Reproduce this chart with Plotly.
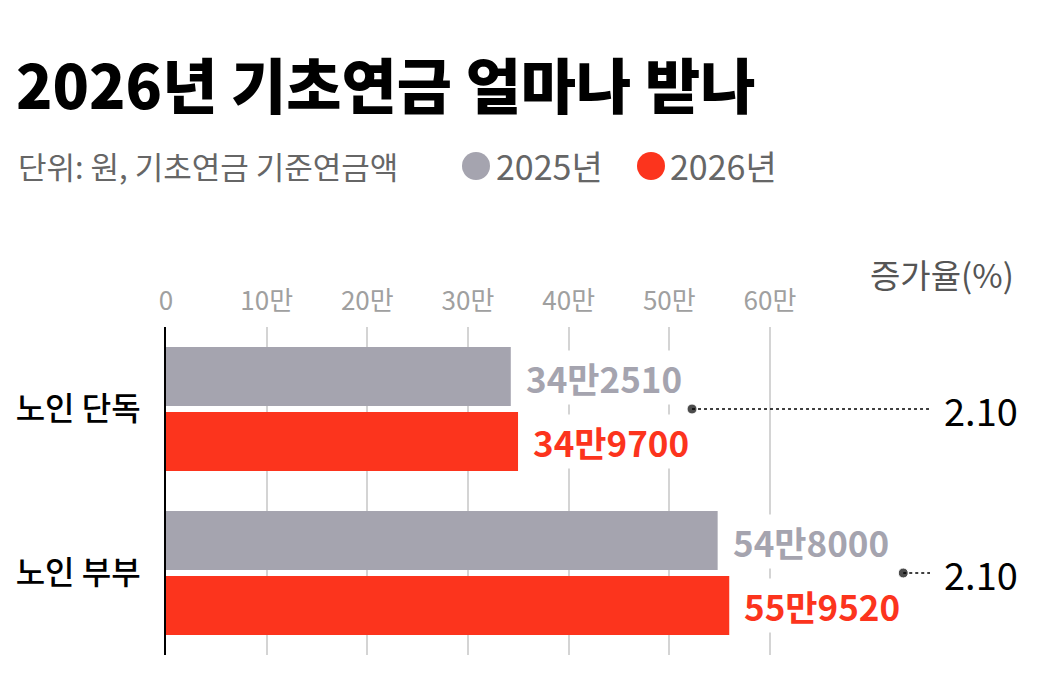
import plotly.graph_objects as go

# data
categories = ['노인 단독', '노인 부부']
years = ['2025년', '2026년']
pension_2025 = [342510, 548000]
pension_2026 = [349700, 559520]
labels_2025 = ['34만2510', '54만8000']
labels_2026 = ['34만9700', '55만9520']
increase_pct = ['2.10', '2.10']
tick_vals = [0, 100000, 200000, 300000, 400000, 500000, 600000]
tick_text = ['0', '10만', '20만', '30만', '40만', '50만', '60만']

GRAY = '#a5a4af'
RED = '#fc341d'
FONT = 'Noto Sans CJK KR'

# page offset of the figure (body margin) and figure size
OFF = 8
WIDTH, HEIGHT = 1064 - OFF, 692 - OFF
# plot box in page pixels: x 166..1064, y 327..655
L, R, T = 166 - OFF, 0, 327 - OFF
B = HEIGHT - (655 - OFF)
PW = WIDTH - L - R
PH = HEIGHT - T - B
PX_PER_WON = (770 - 166) / 600000
X_MAX = PW / PX_PER_WON
LINE_END = (930 - 166) / PX_PER_WON
DOT_OFFSET = 174 / PX_PER_WON


def px_x(p):
    return (p - OFF - L) / PW


def px_y(p):
    return (HEIGHT - B - (p - OFF)) / PH


fig = go.Figure()

fig.add_trace(go.Bar(
    y=categories, x=pension_2025, orientation='h', name=years[0],
    marker=dict(color=GRAY, line=dict(width=0)), hoverinfo='x',
))
fig.add_trace(go.Bar(
    y=categories, x=pension_2026, orientation='h', name=years[1],
    marker=dict(color=RED, line=dict(width=0)), hoverinfo='x',
))

# dotted connectors to increase rate
for cat, v in zip(categories, pension_2026):
    fig.add_trace(go.Scatter(
        x=[v + DOT_OFFSET, LINE_END], y=[cat, cat], mode='lines+markers',
        line=dict(color='black', width=1.6, dash='dot'),
        marker=dict(size=[10, 0], color='black'),
        showlegend=False, hoverinfo='skip',
    ))

annotations = []
for cat, v, t in zip(categories, pension_2025, labels_2025):
    annotations.append(dict(
        x=v, y=cat, xref='x', yref='y', text=t, showarrow=False,
        xanchor='left', xshift=13, yshift=32, bgcolor='white', borderpad=1,
        font=dict(family=FONT, size=35, color=GRAY, weight=700),
    ))
for cat, v, t in zip(categories, pension_2026, labels_2026):
    annotations.append(dict(
        x=v, y=cat, xref='x', yref='y', text=t, showarrow=False,
        xanchor='left', xshift=13, yshift=-32, bgcolor='white', borderpad=1,
        font=dict(family=FONT, size=35, color=RED, weight=700),
    ))
for cat, p in zip(categories, increase_pct):
    annotations.append(dict(
        x=LINE_END, y=cat, xref='x', yref='y', text=p, showarrow=False,
        xanchor='left', xshift=12,
        font=dict(family=FONT, size=38, color='black'),
    ))

# header texts
annotations.append(dict(
    x=px_x(1016), y=px_y(274), xref='paper', yref='paper', text='증가율(%)',
    showarrow=False, xanchor='right', yanchor='middle',
    font=dict(family=FONT, size=33, color='#555555'),
))
annotations.append(dict(
    x=px_x(16), y=px_y(166), xref='paper', yref='paper',
    text='단위: 원, 기초연금 기준연금액', showarrow=False,
    xanchor='left', yanchor='middle',
    font=dict(family=FONT, size=31, color='#666666'),
))
annotations.append(dict(
    x=px_x(494), y=px_y(166), xref='paper', yref='paper', text=years[0],
    showarrow=False, xanchor='left', yanchor='middle',
    font=dict(family=FONT, size=34, color='#666666'),
))
annotations.append(dict(
    x=px_x(668), y=px_y(166), xref='paper', yref='paper', text=years[1],
    showarrow=False, xanchor='left', yanchor='middle',
    font=dict(family=FONT, size=34, color='#666666'),
))

shapes = [
    dict(type='circle', xref='paper', yref='paper', line=dict(width=0),
         fillcolor=GRAY, x0=px_x(462), x1=px_x(490), y0=px_y(180), y1=px_y(152)),
    dict(type='circle', xref='paper', yref='paper', line=dict(width=0),
         fillcolor=RED, x0=px_x(637), x1=px_x(665), y0=px_y(180), y1=px_y(152)),
]

fig.update_layout(
    width=WIDTH, height=HEIGHT,
    margin=dict(l=L, r=R, t=T, b=B),
    paper_bgcolor='white', plot_bgcolor='white',
    barmode='group', bargap=0.207, bargroupgap=0.092,
    showlegend=False,
    title=dict(
        text='2026년 기초연금 얼마나 받나', x=(16 - OFF) / WIDTH, xanchor='left',
        y=1 - (88 - OFF) / HEIGHT, yanchor='middle', yref='container',
        font=dict(family=FONT, size=60, color='black', weight=900),
    ),
    xaxis=dict(
        range=[0, X_MAX], side='top', tickvals=tick_vals, ticktext=tick_text,
        showgrid=True, gridcolor='#d4d4d4', gridwidth=1.5, zeroline=False,
        ticks='', ticklabelstandoff=11, fixedrange=True,
        tickfont=dict(family=FONT, size=26, color='#a0a0a0'),
    ),
    yaxis=dict(
        autorange='reversed', showgrid=False, zeroline=False,
        showline=True, linecolor='black', linewidth=2,
        ticks='', ticklabelstandoff=17, fixedrange=True,
        tickfont=dict(family=FONT, size=32, color='black', weight=500),
    ),
    annotations=annotations,
    shapes=shapes,
)

fig.write_html('out.html')
